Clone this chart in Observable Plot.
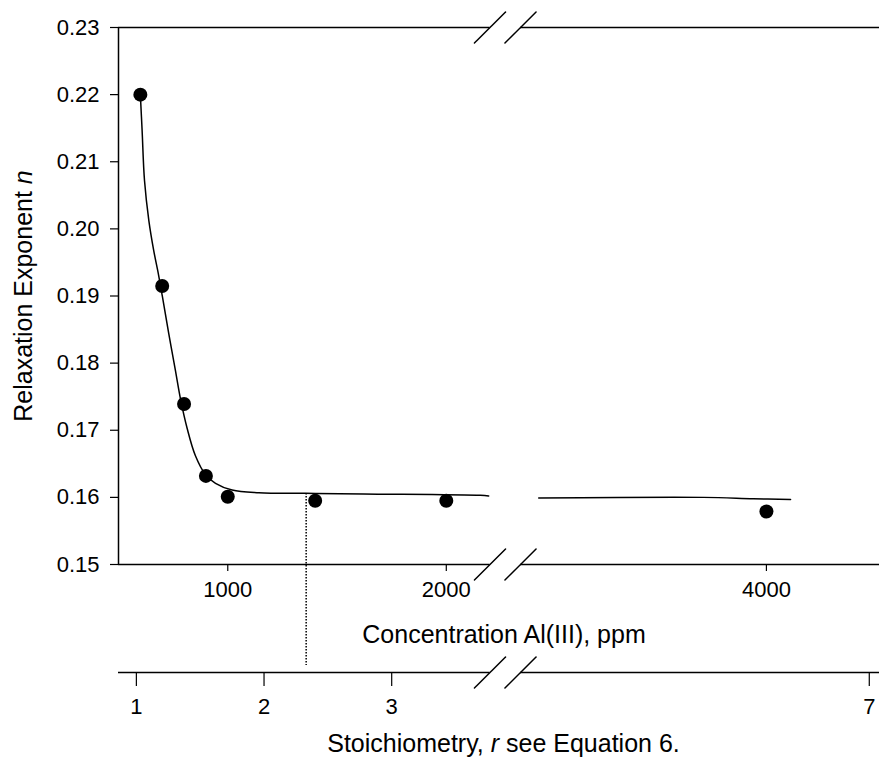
<!DOCTYPE html>
<html><head><meta charset="utf-8">
<script src="https://cdn.jsdelivr.net/npm/d3@7"></script>
<script src="https://cdn.jsdelivr.net/npm/@observablehq/plot@0.6"></script>
<style>
body{margin:0;background:#fff;}
#chart{position:relative;width:879px;height:758px;}
#chart svg{position:absolute;left:0;overflow:visible;}
</style></head><body><div id="chart"></div>
<script>
// ---- data ----
const pointConc = [600, 700, 800, 900, 1000, 1400, 2000, 4000];
const pointN    = [0.2200, 0.1915, 0.1739, 0.1632, 0.1601, 0.1595, 0.1595, 0.1579];

const curveLeftConc = [600, 608, 619, 639, 661, 683, 701, 730, 761, 784, 814, 852, 898, 944, 1020, 1142, 1356, 1621, 2156, 2194];
const curveLeftN    = [0.2200, 0.2147, 0.2072, 0.2012, 0.1968, 0.1932, 0.1899, 0.1844, 0.1788, 0.1746, 0.1703, 0.1662, 0.1634, 0.1621, 0.1611, 0.1607, 0.1606, 0.1605, 0.1603, 0.1602];
const curveRightConc = [2963, 3713, 3941, 4110];
const curveRightN    = [0.1599, 0.1600, 0.1598, 0.1597];

const nTicks    = [0.15, 0.16, 0.17, 0.18, 0.19, 0.20, 0.21, 0.22, 0.23];
const concTicks = [1000, 2000, 4000];
const rTicks    = [1, 2, 3, 7];

// broken axes: [axis start, break start, break end, axis end]
const concDomain = [500, 2200, 2880, 4515];
const rDomain    = [0.86, 3.77, 4.27, 7.08];
const rMarked    = 2.33;   // dotted guide

const yLabelParts = [["Relaxation Exponent ", false], ["n", true]];
const xLabelParts = [["Concentration Al(III), ppm", false]];
const rLabelParts = [["Stoichiometry, ", false], ["r", true], [" see Equation 6.", false]];

// ---- build tables ----
const joinParts = p => p.map(d => d[0]).join("");
const points = pointConc.map((c, i) => ({c, n: pointN[i]}));
const curve = [
  ...curveLeftConc.map((c, i) => ({c, n: curveLeftN[i], seg: "a"})),
  ...curveRightConc.map((c, i) => ({c, n: curveRightN[i], seg: "b"}))
];
const frameSegs = [];
for (const y of [nTicks[0], nTicks[nTicks.length - 1]]) {
  frameSegs.push({y, x1: concDomain[0], x2: concDomain[1]});
  frameSegs.push({y, x1: concDomain[2], x2: concDomain[3]});
}
const slashesMain = [];
for (const y of [nTicks[0], nTicks[nTicks.length - 1]]) {
  slashesMain.push({x: concDomain[1], y});
  slashesMain.push({x: concDomain[2], y});
}
const rSegs = [{x1: rDomain[0], x2: rDomain[1]}, {x1: rDomain[2], x2: rDomain[3]}];
const rSlashes = [{x: rDomain[1]}, {x: rDomain[2]}];

const slash = {draw(context, l) { context.moveTo(0, 0); context.lineTo(0, -l); }};
const font = '"Liberation Sans", Arial, Helvetica, sans-serif';
const xRange = [118, 489.5, 520, 879];

const main = Plot.plot({
  width: 879, height: 758,
  marginLeft: 118, marginRight: 0, marginTop: 27, marginBottom: 194,
  style: {fontFamily: font, fontSize: "22px", color: "black", background: "white", overflow: "visible"},
  x: {type: "linear", domain: concDomain, range: xRange},
  y: {type: "linear", domain: [nTicks[0], nTicks[nTicks.length - 1]]},
  marks: [
    Plot.ruleY(frameSegs, {y: "y", x1: "x1", x2: "x2", stroke: "black", strokeWidth: 1.5}),
    Plot.ruleX([concDomain[0]], {stroke: "black", strokeWidth: 1.5}),
    Plot.axisY({ticks: nTicks, tickSize: 8, tickPadding: 11, tickFormat: d3.format(".2f"), label: null, strokeWidth: 1.2, fontSize: 22}),
    Plot.axisX({ticks: concTicks, tickSize: 7, tickPadding: 10, tickFormat: d3.format("d"), label: null, strokeWidth: 1.2, fontSize: 22}),
    Plot.line(curve, {x: "c", y: "n", z: "seg", curve: "catmull-rom", stroke: "black", strokeWidth: 1.5}),
    Plot.dot(points, {x: "c", y: "n", r: 7, fill: "black", stroke: "none"}),
    Plot.vector(slashesMain, {x: "x", y: "y", length: 44, rotate: 45, anchor: "middle", shape: slash, stroke: "black", fill: "none", strokeWidth: 1.5}),
    Plot.text([joinParts(yLabelParts)], {text: d => d, frameAnchor: "left", textAnchor: "middle", rotate: -90, dx: -87, lineAnchor: "bottom", fontSize: 25}),
    Plot.text([joinParts(xLabelParts)], {text: d => d, frameAnchor: "bottom", textAnchor: "middle", dy: 78, dx: 5, lineAnchor: "bottom", fontSize: 25})
  ]
});

const rAxis = Plot.plot({
  width: 879, height: 265,
  marginLeft: 118, marginRight: 0, marginTop: 0, marginBottom: 86,
  style: {fontFamily: font, fontSize: "22px", color: "black", background: "transparent", overflow: "visible"},
  x: {type: "linear", domain: rDomain, range: xRange},
  y: {type: "linear", domain: [0, 1], axis: null},
  marks: [
    Plot.ruleX([rMarked], {stroke: "black", strokeWidth: 1.5, strokeDasharray: "1.5 1.5", insetBottom: 7}),
    Plot.ruleY(rSegs, {y: () => 0, x1: "x1", x2: "x2", stroke: "black", strokeWidth: 1.5}),
    Plot.axisX({ticks: rTicks, tickSize: 14, tickPadding: 12, tickFormat: d3.format("d"), label: null, strokeWidth: 1.2, fontSize: 22}),
    Plot.vector(rSlashes, {x: "x", y: () => 0, length: 44, rotate: 45, anchor: "middle", shape: slash, stroke: "black", fill: "none", strokeWidth: 1.5}),
    Plot.text([joinParts(rLabelParts)], {text: d => d, frameAnchor: "bottom", textAnchor: "middle", dy: 79, dx: 4.5, lineAnchor: "bottom", fontSize: 25})
  ]
});

function styleParts(svg, parts) {
  const full = joinParts(parts);
  svg.querySelectorAll("text").forEach(t => {
    if (t.textContent === full) {
      while (t.firstChild) t.removeChild(t.firstChild);
      for (const [s, it] of parts) {
        const ts = document.createElementNS("http://www.w3.org/2000/svg", "tspan");
        ts.textContent = s;
        if (it) ts.setAttribute("font-style", "italic");
        t.appendChild(ts);
      }
      t.setAttribute("xml:space", "preserve");
      t.style.whiteSpace = "pre";
    }
  });
}
styleParts(main, yLabelParts);
styleParts(rAxis, rLabelParts);

const chart = document.getElementById("chart");
main.style.top = "0px";
rAxis.style.top = "493px";
chart.appendChild(main);
chart.appendChild(rAxis);
</script></body></html>
